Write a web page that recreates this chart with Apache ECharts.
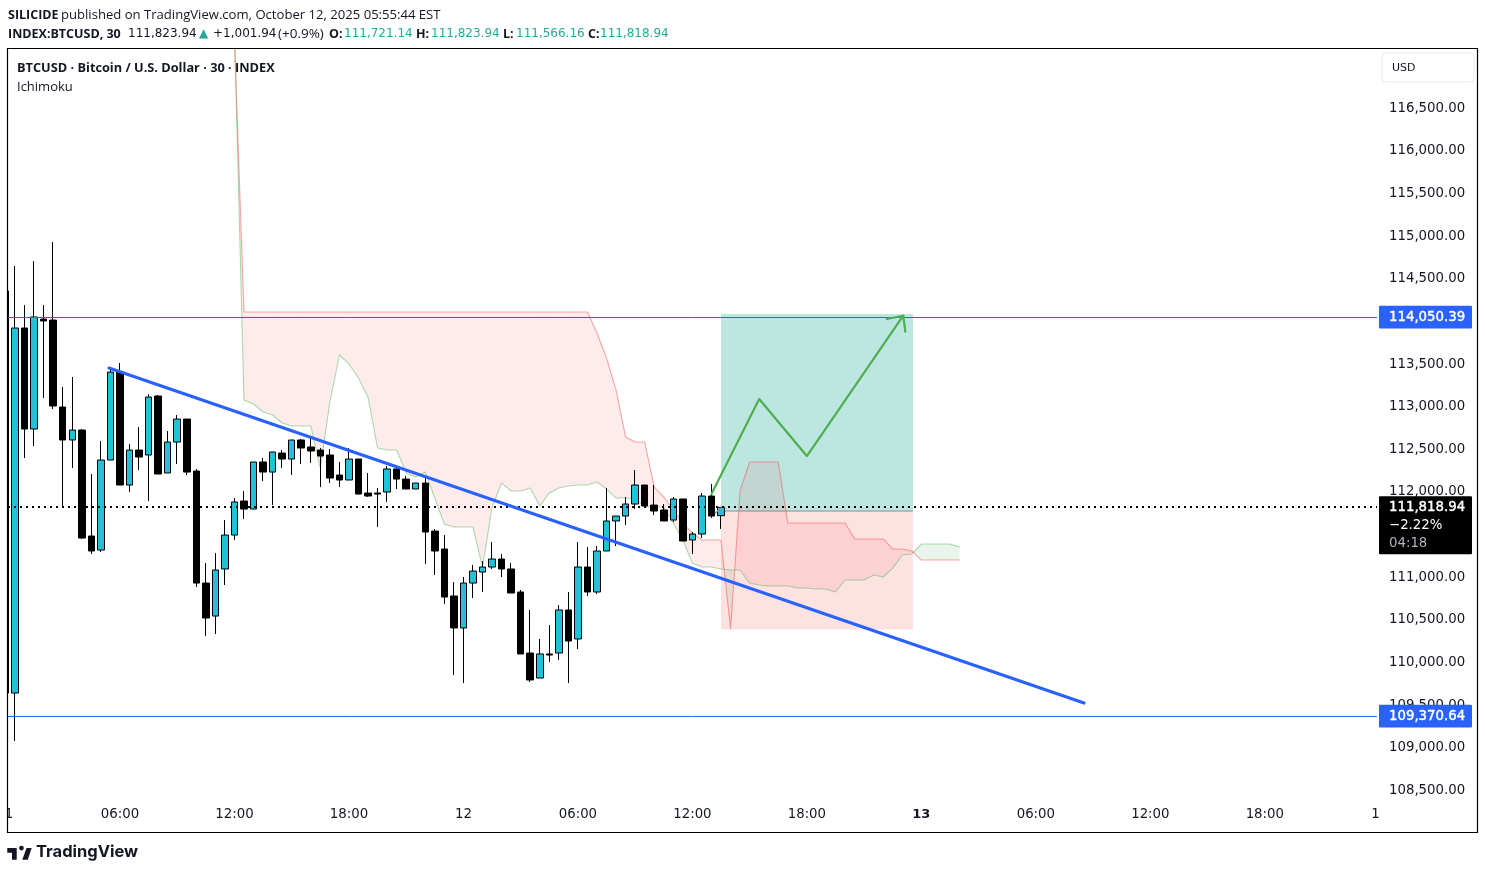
<!DOCTYPE html>
<html><head><meta charset="utf-8">
<style>html,body{margin:0;padding:0;background:#fff}#c{width:1485px;height:873px}</style>
<script src="https://cdn.jsdelivr.net/npm/echarts@6/dist/echarts.min.js"></script>
</head><body><div id="c"></div>
<script>
const opens=[114357,109641,113923,112738,114028,114016,112996,112609,112726,111483,111318,112374,113406,112081,112491,112433,113125,112222,112585,112855,112245,110931,110544,111096,111494,111893,111799,112351,112233,112456,112386,112609,112527,112491,112433,112198,112140,112386,111987,111987,111999,112269,112151,112034,112104,111541,111330,110779,110404,110931,111060,111119,111213,111096,110826,110110,109817,110099,110110,110615,110275,111119,110826,111307,111659,111717,111858,112081,111846,111788,111670,111917,111436,111506,111952,111721.14];
const closes=[109641,113923,112738,114052,114005,113008,112609,112726,111459,111307,112374,113406,112081,112491,112409,113113,112210,112585,112855,112233,110931,110521,111084,111494,111882,111799,112351,112233,112468,112386,112609,112515,112480,112421,112163,112140,112386,111975,111952,111975,112269,112151,112034,112104,111530,111307,110767,110404,110931,111072,111119,111213,111096,110814,110099,109794,110099,110087,110615,110251,111119,110826,111307,111659,111717,111858,112081,111835,111776,111659,111917,111424,111506,111952,111717,111818.94];
const lows=[109641,109078,112398,112538,113101,112972,111823,112280,111448,111272,111295,112374,112081,111999,112257,111893,112210,112222,112327,112198,110884,110310,110333,110908,111436,111682,111799,112128,111846,112280,112198,112327,112339,112057,112104,112057,112140,111975,111940,111588,111882,112034,112034,112034,111154,111025,110685,109852,109758,110755,110826,111096,111002,110814,110099,109770,109817,110005,110028,109758,110157,110779,110802,111307,111365,111612,111799,111835,111729,111659,111647,111424,111272,111459,111694,111566.16];
const highs=[114357,114650,114192,114708,114192,114931,113230,113348,112738,112210,112597,113465,113512,112562,112761,113148,113137,112714,112902,112855,112269,111166,111283,111670,111928,112011,112351,112398,112468,112491,112609,112621,112656,112515,112503,112351,112515,112386,112222,112046,112304,112304,112187,112104,112163,111565,111494,110943,111002,111143,111189,111412,111272,111166,110849,110615,110275,110439,110673,110826,111412,111354,111365,112046,111717,111940,112257,112081,112081,111858,111940,111917,111530,111987,112093,111823.94];

const spanStart=24;
const spanA=[117418,113078,113031,112937,112902,112808,112773,112773,112773,112280,113055,113606,113500,113336,113113,112515,112491,112491,112222,112175,112233,111928,111623,111588,111588,111588,111119,111823,112104,112011,112011,112046,111835,111987,112046,112069,112081,112081,112116,112034,111928,111928,111917,111823,111823,111823,111635,111436,111166,111119,111119,111096,111084,111084,110931,110908,110896,110896,110896,110873,110873,110861,110861,110826,110967,110967,110967,111025,111002,111107,111260,111272,111389,111389,111389,111389,111354];
const spanB=[117301,114110,114110,114110,114110,114110,114110,114110,114110,114110,114110,114110,114110,114110,114110,114110,114110,114110,114110,114110,114110,114110,114110,114110,114110,114110,114110,114110,114110,114110,114110,114110,114110,114110,114110,114110,114110,114110,113864,113571,113195,112644,112585,112585,112057,111940,111788,111635,111518,111436,111436,111436,110392,112011,112351,112351,112351,112351,111635,111635,111635,111635,111635,111635,111635,111448,111448,111448,111448,111330,111330,111307,111201,111201,111201,111201,111201];

const yTicks=[108500,109000,109500,110000,110500,111000,111500,112000,112500,113000,113500,114000,114500,115000,115500,116000,116500];
const xTickIndex=[0.37,12,24,36,48,60,72,84,96,108,120,132,143.6];
const xTickText=['1','06:00','12:00','18:00','12','06:00','12:00','18:00','13','06:00','12:00','18:00','1'];

const xMin=0.262,xMax=143.76,yMin=108386.2,yMax=117195.6;
const resistance=114050.39,support=109370.64,lastClose=111818.94;
const trendX=[10.85,113.05],trendY=[113453,109524];
const pathX=[74,79,84,94.1],pathY=[111975,113090,112421,114067];
const headX=[92.37,94.1,94.32],headY=[114028,114067,113879];
const boxX=[75,95.13],boxTop=114087,boxEntry=111776,boxBottom=110386;
const stubX=[74.4,75],stubY=[111753,111811];

const candleData=opens.map((o,i)=>[i,o,closes[i],lows[i],highs[i]]);
const cloudData=spanA.slice(0,-1).map((a,j)=>[spanStart+j,a,spanB[j],spanA[j+1],spanB[j+1]]);
const pairs=(xs,ys)=>xs.map((x,i)=>[x,ys[i]]);
const CLOUD_UP='rgba(242,54,69,0.095)',CLOUD_DN='rgba(76,175,80,0.12)';
const RED='rgba(239,83,80,0.5)',GRN='rgba(76,175,80,0.45)';

function renderCloud(params,api){
  const x0=api.value(0),a0=api.value(1),b0=api.value(2),a1=api.value(3),b1=api.value(4),x1=x0+1;
  const P=(x,y)=>api.coord([x,y]);
  const poly=(pts,fill)=>({type:'polygon',shape:{points:pts},style:{fill:fill}});
  const d0=b0-a0,d1=b1-a1;
  if(d0*d1>=0){
    return poly([P(x0,a0),P(x1,a1),P(x1,b1),P(x0,b0)],(d0+d1)>=0?CLOUD_UP:CLOUD_DN);
  }
  const t=d0/(d0-d1),xc=x0+t,yc=a0+(a1-a0)*t;
  return {type:'group',children:[
    poly([P(x0,a0),P(xc,yc),P(x0,b0)],d0>0?CLOUD_UP:CLOUD_DN),
    poly([P(xc,yc),P(x1,a1),P(x1,b1)],d1>0?CLOUD_UP:CLOUD_DN)
  ]};
}
function renderBox(params,api){
  const a=api.coord([boxX[0],boxTop]),m=api.coord([boxX[1],boxEntry]),b=api.coord([boxX[1],boxBottom]);
  return {type:'group',children:[
    {type:'rect',shape:{x:a[0],y:a[1],width:m[0]-a[0],height:m[1]-a[1]},style:{fill:'#bee6e0'}},
    {type:'rect',shape:{x:a[0],y:m[1],width:m[0]-a[0],height:b[1]-m[1]},style:{fill:'#fde2e2'}},
    {type:'line',shape:{x1:a[0],y1:m[1],x2:m[0],y2:m[1]},style:{stroke:'#8a8f98',lineWidth:1}}
  ]};
}
function renderLevels(params,api){
  const v=api.value(1),l=api.coord([xMin,v]),r=api.coord([xMax,v]);
  if(v===lastClose){
    const y=Math.round(l[1]);
    return {type:'line',shape:{x1:l[0],y1:y,x2:r[0],y2:y},style:{stroke:'#000',lineWidth:2,lineDash:[2,4],lineCap:'butt'}};
  }
  const y=Math.floor(l[1])+0.5;
  return {type:'line',shape:{x1:l[0],y1:y,x2:r[0],y2:y},style:{stroke:'#2962ff',lineWidth:1}};
}
const lineS=(name,data,color,width,z)=>({name,type:'line',data,showSymbol:false,symbol:'none',silent:true,z,
  lineStyle:{color,width,cap:'round',join:'round'},animation:false});

const F='"DejaVu Sans"',T='"Open Sans"',INK='#131722',TEAL='#22ab94';
const txt=(x,y,text,o)=>({type:'text',x,y,z:100,silent:true,style:Object.assign({text,fill:INK,font:'13px '+T,textVerticalAlign:'middle'},o||{})});
const LK=0.787,LX=5.7,LY=843.3;
const lp=pts=>pts.map(p=>[LX+p[0]*LK,LY+p[1]*LK]);
const graphics=[
  {type:'rect',z:89,silent:true,shape:{x:0,y:48,width:7.5,height:785},style:{fill:'#fff'}},
  {type:'rect',z:90,silent:true,shape:{x:7.5,y:48.5,width:1470,height:784},style:{fill:'none',stroke:'#000',lineWidth:1.2}},
  txt(8,15,'SILICIDE',{font:'bold 12.5px '+T}),
  txt(61,15,'published on TradingView.com, October 12, 2025 05:55:44 EST',{font:'13.1px '+T}),
  txt(8,34,'INDEX:BTCUSD, 30',{font:'bold 12.5px '+T}),
  txt(128,34,'111,823.94',{font:'12px '+F}),
  txt(199,34,'▲',{font:'12px '+F,fill:'#26a69a'}),
  txt(213,34,'+1,001.94',{font:'12px '+F}),
  txt(278,34,'(+0.9%)',{font:'13.5px '+T}),
  txt(329,34,'O:',{font:'bold 12.5px '+T}),
  txt(344,34,'111,721.14',{font:'12px '+F,fill:TEAL}),
  txt(416,34,'H:',{font:'bold 12.5px '+T}),
  txt(431,34,'111,823.94',{font:'12px '+F,fill:TEAL}),
  txt(503,34,'L:',{font:'bold 12.5px '+T}),
  txt(516,34,'111,566.16',{font:'12px '+F,fill:TEAL}),
  txt(588,34,'C:',{font:'bold 12.5px '+T}),
  txt(600,34,'111,818.94',{font:'12px '+F,fill:TEAL}),
  txt(17,68,'BTCUSD · Bitcoin / U.S. Dollar · 30 · INDEX',{font:'bold 12.75px '+T}),
  txt(17,87,'Ichimoku',{font:'13px '+T}),
  {type:'rect',z:100,silent:true,shape:{x:1382,y:53,width:92,height:29,r:4},style:{fill:'#fff',stroke:'#e8eaf0',lineWidth:1}},
  txt(1392,68,'USD',{font:'11px '+F}),
  {type:'polygon',z:100,silent:true,shape:{points:lp([[14,6],[2,6],[2,12],[8,12],[8,21],[14,21]])},style:{fill:INK}},
  {type:'polygon',z:100,silent:true,shape:{points:lp([[28,21],[21,21],[26.5,6],[33,6]])},style:{fill:INK}},
  {type:'circle',z:100,silent:true,shape:{cx:LX+20*LK,cy:LY+6*LK,r:3*LK},style:{fill:INK}},
  txt(36,852,'TradingView',{font:'bold 16.5px Inter'})
];

const chart=echarts.init(document.getElementById('c'),null,{renderer:'canvas'});
chart.setOption({
  animation:false,
  backgroundColor:'#fff',
  grid:{left:8,right:108,top:49,bottom:73,containLabel:false},
  xAxis:{type:'value',min:xMin,max:xMax,
    axisLine:{show:false},axisTick:{show:false},splitLine:{show:false},
    axisLabel:{customValues:xTickIndex,margin:8,color:INK,fontFamily:'DejaVu Sans',fontSize:13.3,hideOverlap:false,
      formatter:v=>{const t=xTickText[xTickIndex.indexOf(v)];return t==='13'?'{b|13}':t;},
      rich:{b:{fontWeight:'bold',fontFamily:'DejaVu Sans',fontSize:13,color:INK}}}},
  yAxis:{type:'value',position:'right',min:yMin,max:yMax,
    axisLine:{show:false},axisTick:{show:false},splitLine:{show:false},
    axisLabel:{customValues:yTicks,margin:12,color:INK,fontFamily:'DejaVu Sans',fontSize:13.3,
      formatter:v=>v.toLocaleString('en-US',{minimumFractionDigits:2,maximumFractionDigits:2})}},
  graphic:graphics,
  series:[
    {name:'box',type:'custom',renderItem:renderBox,data:[[boxX[0],boxTop]],clip:true,z:1,silent:true,encode:{x:0,y:1}},
    {name:'cloud',type:'custom',renderItem:renderCloud,data:cloudData,clip:true,z:2,silent:true,encode:{x:0,y:[1,2]}},
    lineS('Span A',spanA.map((v,j)=>[spanStart+j,v]),GRN,1.1,2),
    lineS('Span B',spanB.map((v,j)=>[spanStart+j,v]),RED,1.1,2),
    {name:'BTCUSD',type:'candlestick',data:candleData,barWidth:7,z:3,silent:true,clip:true,encode:{x:0,y:[1,2,3,4]},
      itemStyle:{color:'#22c1da',color0:'#000',borderColor:'#000',borderColor0:'#000',borderWidth:1}},
    {name:'Levels',type:'custom',renderItem:renderLevels,data:[[xMin,resistance],[xMin,support],[xMin,lastClose]],z:4,silent:true,encode:{x:0,y:1}},
    lineS('Trend',pairs(trendX,trendY),'#2962ff',3.2,5),
    lineS('Stub',pairs(stubX,stubY),'#9598a1',1.5,4),
    lineS('Path',pairs(pathX,pathY),'#4caf50',2.2,5),
    lineS('Arrow',pairs(headX,headY),'#4caf50',2.2,5)
  ]
});
const yPx=v=>chart.convertToPixel({yAxisIndex:0},v);
const tag=(v)=>{const y=yPx(v);return [
  {type:'rect',z:100,silent:true,shape:{x:1379,y:y-11.3,width:93,height:22.6,r:1},style:{fill:'#2962ff'}},
  txt(1389,y,v.toLocaleString('en-US',{minimumFractionDigits:2}),{font:'13.3px '+F,fill:'#fff',stroke:'#fff',lineWidth:0.4})];};
const yL=yPx(lastClose);
chart.setOption({graphic:graphics.concat(tag(resistance),tag(support),[
  {type:'rect',z:100,silent:true,shape:{x:1379,y:yL-11,width:93,height:58,r:1},style:{fill:'#000'}},
  txt(1389,yL,lastClose.toLocaleString('en-US',{minimumFractionDigits:2}),{font:'13.3px '+F,fill:'#fff',stroke:'#fff',lineWidth:0.4}),
  txt(1389,yL+18,'−2.22%',{font:'13.3px '+F,fill:'#fff'}),
  txt(1389,yL+36,'04:18',{font:'13.3px '+F,fill:'#b2b5be'})
])});
</script></body></html>
